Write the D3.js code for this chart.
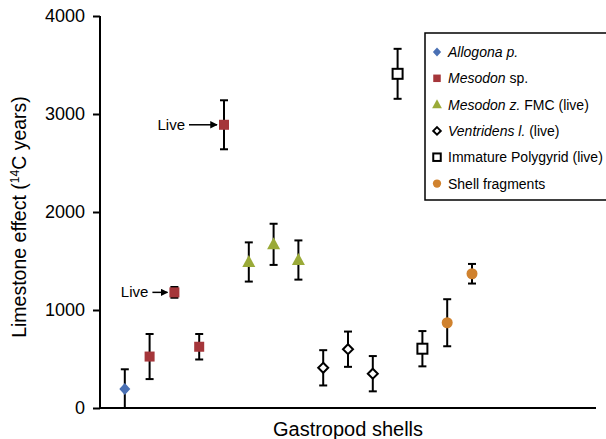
<!DOCTYPE html>
<html>
<head>
<meta charset="utf-8">
<script src="https://cdn.jsdelivr.net/npm/d3@7"></script>
<style>
  body { margin: 0; background: #fff; }
  svg { font-family: "Liberation Sans", Arial, sans-serif; }
</style>
</head>
<body>
<svg id="grafico"></svg>
<script>
// dados
const grupos = ['Allogona p.', 'Mesodon sp.', 'Mesodon z. FMC (live)', 'Ventridens l. (live)', 'Immature Polygyrid (live)', 'Shell fragments'];
const grupoDoPonto = [0, 1, 1, 1, 1, 2, 2, 2, 3, 3, 3, 4, 4, 5, 5];
const valores = [195, 525, 1180, 625, 2890, 1490, 1670, 1510, 410, 600, 350, 3410, 605, 870, 1370];
const erros = [200, 230, 55, 130, 250, 200, 210, 200, 180, 180, 180, 255, 180, 240, 100];
const pontosVivos = [2, 4];
const ticksY = [0, 1000, 2000, 3000, 4000];

const cores = ['#4a70b4', '#a5363a', '#9aaa38', '#000', '#000', '#d0822e'];
const legendaItalico = ['Allogona p.', 'Mesodon', 'Mesodon z.', 'Ventridens l.', '', ''];
const legendaResto = ['', ' sp.', ' FMC (live)', ' (live)', 'Immature Polygyrid (live)', 'Shell fragments'];

const largura = 606, altura = 439;
let svg = d3.select('#grafico').attr('width', largura).attr('height', altura);

let fnX = d3.scaleLinear().domain([0, 20]).range([100, 596]);
let fnY = d3.scaleLinear().domain([0, 4000]).range([408, 16]);

// eixo Y
let eixoY = d3.axisLeft(fnY).tickValues(ticksY).tickSize(7).tickPadding(8).tickFormat(d3.format('d'));
let gY = svg.append('g').attr('transform', 'translate(100,0)').call(eixoY);
gY.select('.domain').attr('stroke-width', 2).attr('d', 'M0,16V408');
gY.selectAll('.tick line').attr('stroke-width', 2);
gY.selectAll('.tick text').attr('font-size', 18).attr('fill', '#000');

// eixo X
svg.append('line')
  .attr('x1', fnX(0)).attr('x2', fnX(20))
  .attr('y1', fnY(0)).attr('y2', fnY(0))
  .attr('stroke', '#000').attr('stroke-width', 2);

svg.append('text')
  .attr('x', 348).attr('y', 436)
  .attr('text-anchor', 'middle').attr('font-size', 20)
  .text('Gastropod shells');

let rotY = svg.append('text')
  .attr('transform', 'translate(26,217) rotate(-90)')
  .attr('text-anchor', 'middle').attr('font-size', 19.5);
rotY.append('tspan').text('Limestone effect (');
rotY.append('tspan').attr('font-size', 12).attr('dy', -7).text('14');
rotY.append('tspan').attr('dy', 7).text('C years)');

// barras de erro
let dados = valores.map((v, i) => ({ i: i + 1, v: v, e: erros[i], g: grupoDoPonto[i] }));

let barras = svg.selectAll('.erro').data(dados).enter().append('g').classed('erro', true);
barras.append('line')
  .attr('x1', d => fnX(d.i)).attr('x2', d => fnX(d.i))
  .attr('y1', d => fnY(Math.max(0, d.v - d.e))).attr('y2', d => fnY(d.v + d.e))
  .attr('stroke', '#000').attr('stroke-width', 2);
barras.append('line')
  .attr('x1', d => fnX(d.i) - 4).attr('x2', d => fnX(d.i) + 4)
  .attr('y1', d => fnY(d.v + d.e)).attr('y2', d => fnY(d.v + d.e))
  .attr('stroke', '#000').attr('stroke-width', 2);
barras.filter(d => d.v - d.e > 0).append('line')
  .attr('x1', d => fnX(d.i) - 4).attr('x2', d => fnX(d.i) + 4)
  .attr('y1', d => fnY(d.v - d.e)).attr('y2', d => fnY(d.v - d.e))
  .attr('stroke', '#000').attr('stroke-width', 2);

// marcadores
function marcador(sel, g, escala) {
  let s = escala;
  if (g === 0) {
    sel.append('path').attr('d', `M0,${-6*s}L${5.5*s},0L0,${6*s}L${-5.5*s},0Z`).attr('fill', cores[0]);
  } else if (g === 1) {
    sel.append('rect').attr('x', -5*s).attr('y', -5*s).attr('width', 10*s).attr('height', 10*s).attr('fill', cores[1]);
  } else if (g === 2) {
    sel.append('path').attr('d', `M0,${-7*s}L${6.5*s},${5*s}L${-6.5*s},${5*s}Z`).attr('fill', cores[2]);
  } else if (g === 3) {
    sel.append('path').attr('d', `M0,${-5*s}L${5*s},0L0,${5*s}L${-5*s},0Z`).attr('fill', '#fff').attr('stroke', '#000').attr('stroke-width', 2);
  } else if (g === 4) {
    sel.append('rect').attr('x', -5*s).attr('y', -5*s).attr('width', 10*s).attr('height', 10*s).attr('fill', '#fff').attr('stroke', '#000').attr('stroke-width', 2);
  } else {
    sel.append('circle').attr('r', 5.5*s).attr('fill', cores[5]);
  }
}

svg.selectAll('.ponto').data(dados).enter().append('g')
  .classed('ponto', true)
  .attr('transform', d => `translate(${fnX(d.i)},${fnY(d.v)})`)
  .each(function(d) { marcador(d3.select(this), d.g, 1); });

// anotações "Live"
svg.append('defs').append('marker')
  .attr('id', 'seta').attr('viewBox', '0 0 10 10').attr('refX', 9).attr('refY', 5)
  .attr('markerWidth', 5).attr('markerHeight', 5).attr('orient', 'auto')
  .append('path').attr('d', 'M0,0L10,5L0,10Z').attr('fill', '#000');

const compSeta = [22, 35];
pontosVivos.forEach((k, j) => {
  let x = fnX(k + 1), y = fnY(valores[k]);
  svg.append('line')
    .attr('x1', x - compSeta[j]).attr('x2', x - 7).attr('y1', y).attr('y2', y)
    .attr('stroke', '#000').attr('stroke-width', 1.5).attr('marker-end', 'url(#seta)');
  svg.append('text')
    .attr('x', x - compSeta[j] - 4).attr('y', y + 5).attr('text-anchor', 'end').attr('font-size', 15)
    .text('Live');
});

// legenda
let leg = svg.append('g');
leg.append('rect').attr('x', 425).attr('y', 33).attr('width', 190).attr('height', 167)
  .attr('fill', '#fff').attr('stroke', '#000').attr('stroke-width', 1.5);
grupos.forEach((nome, g) => {
  let y = 52 + g * 26.3;
  let m = leg.append('g').attr('transform', `translate(437,${y})`);
  marcador(m, g, 0.75);
  let t = leg.append('text').attr('x', 448).attr('y', y + 5).attr('font-size', 14);
  if (legendaItalico[g]) t.append('tspan').attr('font-style', 'italic').text(legendaItalico[g]);
  if (legendaResto[g]) t.append('tspan').text(legendaResto[g]);
});
</script>
</body>
</html>
